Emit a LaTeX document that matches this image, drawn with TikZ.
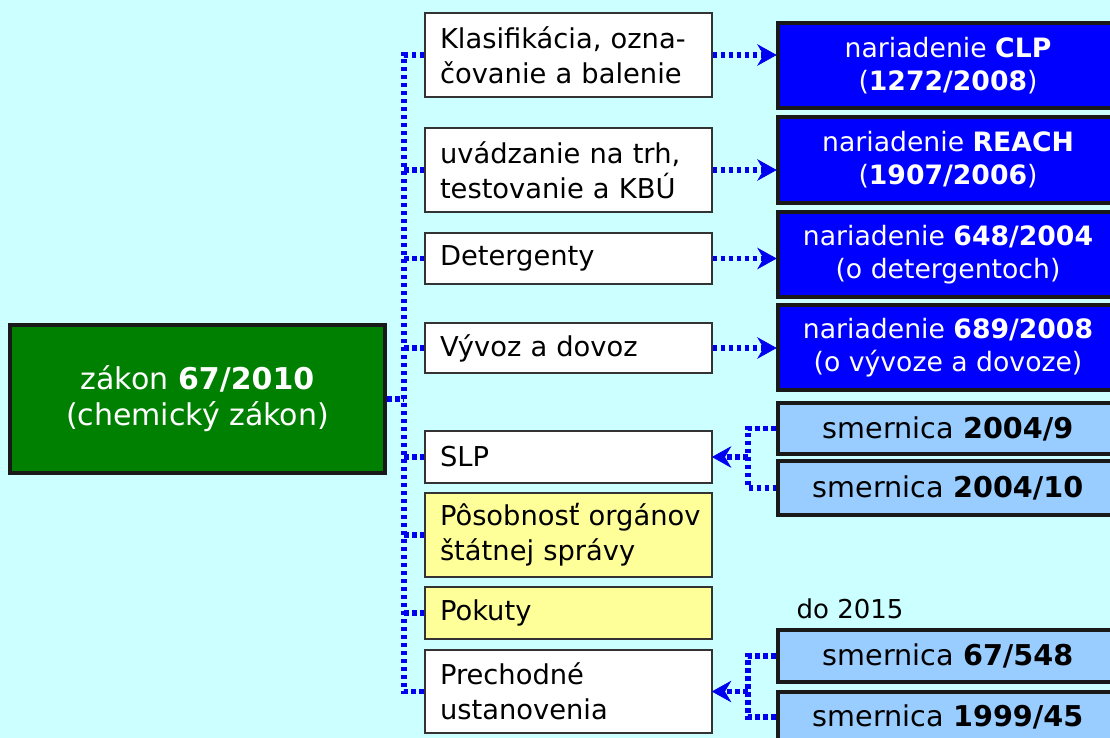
\documentclass[tikz,border=0pt]{standalone}
\usepackage{fontspec}
\setmainfont{DejaVu Sans}
\usetikzlibrary{calc}
\newdimen\pxu \pxu=0.75pt
\definecolor{bgcyan}{HTML}{CCFFFF}
\definecolor{lawgreen}{HTML}{008000}
\definecolor{regblue}{HTML}{0000FF}
\definecolor{dirblue}{HTML}{99CCFF}
\definecolor{paleyellow}{HTML}{FFFF99}
\definecolor{linkblue}{HTML}{0000F0}
\newcommand{\basefont}{\fontsize{20.5}{26}\selectfont}
\newcommand{\dirfont}{\fontsize{21.5}{26}\selectfont}
\tikzset{
  topic/.style={draw=black!80, line width=0.8pt, fill=white,
    text width=257*\pxu, inner xsep=15*\pxu, inner ysep=0pt,
    align=left, font=\basefont},
  yellowtopic/.style={topic, fill=paleyellow},
  lawbox/.style={draw=black!90, line width=3pt, fill=lawgreen, text=white,
    align=center, inner sep=0pt, font=\fontsize{22.5}{27}\selectfont},
  regbox/.style={draw=black!90, line width=3pt, fill=regblue, text=white,
    minimum width=340*\pxu, align=center, inner sep=0pt,
    font=\fontsize{20}{24.75}\selectfont},
  dirbox/.style={draw=black!90, line width=3pt, fill=dirblue, text=black,
    minimum width=340*\pxu, align=center, inner sep=0pt, font=\dirfont},
  link/.style={draw=linkblue, line width=4pt, line cap=butt,
    dash pattern=on 3.4pt off 2.6pt},
  linkarrow/.style={link, shorten >=9pt},
  headfill/.style={fill=linkblue, draw=linkblue, line width=0.5pt,
    line join=miter},
}
% dotted connector ending in a swept-back head; #3 = +1 points right, -1 left
\newcommand{\linkhead}[3]{%
  \draw[linkarrow] (#1) -- (#2);
  \path[headfill] (#2) -- ++(-18*#3,-10) -- ++(6*#3,10) -- ++(-6*#3,10)
    -- cycle;}
\begin{document}
\begin{tikzpicture}[x=0.75pt, y=-0.75pt]
  \fill[bgcyan] (0,0) rectangle (1110,738);
  \useasboundingbox (0,0) rectangle (1110,738);
  \clip (0,0) rectangle (1110,738);

  % the law itself
  \node[lawbox, minimum width=375*\pxu, minimum height=148*\pxu] (law)
    at (197.5,399) {zákon \textbf{67/2010}\\(chemický zákon)};

  % topics covered by the law
  \node[topic, minimum height=84*\pxu] (klas) at (568.5,55)
    {\mbox{Klasifikácia, ozna-}\\čovanie a balenie};
  \node[topic, minimum height=84*\pxu] (trh) at (568.5,170)
    {uvádzanie na trh,\\testovanie a KBÚ};
  \node[topic, minimum height=51*\pxu] (det) at (568.5,258.5) {Detergenty};
  \node[topic, minimum height=50*\pxu] (vyv) at (568.5,348) {Vývoz a dovoz};
  \node[topic, minimum height=52*\pxu] (slp) at (568.5,457) {SLP};
  \node[yellowtopic, minimum height=84*\pxu] (pos) at (568.5,535)
    {\mbox{Pôsobnosť orgánov}\\štátnej správy};
  \node[yellowtopic, minimum height=52*\pxu] (pok) at (568.5,613) {Pokuty};
  \node[topic, minimum height=83*\pxu] (pre) at (568.5,691.5)
    {Prechodné\\ustanovenia};

  % EU regulations
  \node[regbox, minimum height=85*\pxu] (clp) at (948,65.5)
    {nariadenie \textbf{CLP}\\(\textbf{1272/2008})};
  \node[regbox, minimum height=86*\pxu] (reach) at (948,160)
    {nariadenie \textbf{REACH}\\(\textbf{1907/2006})};
  \node[regbox, minimum height=85*\pxu] (r648) at (948,254.5)
    {nariadenie \textbf{648/2004}\\(o detergentoch)};
  \node[regbox, minimum height=85*\pxu] (r689) at (948,347.5)
    {nariadenie \textbf{689/2008}\\(o vývoze a dovoze)};

  % EU directives
  \node[dirbox, minimum height=51*\pxu] (d9) at (948,428.5)
    {smernica \textbf{2004/9}};
  \node[dirbox, minimum height=54*\pxu] (d10) at (948,488)
    {smernica \textbf{2004/10}};
  \node[dirbox, minimum height=52*\pxu] (d67) at (948,656)
    {smernica \textbf{67/548}};
  \node[dirbox, minimum height=50*\pxu] (d99) at (948,717)
    {smernica \textbf{1999/45}};
  \node[font=\fontsize{19.5}{24}\selectfont, inner sep=0pt] (until)
    at (850,609) {do 2015};

  % trunk from the law to its topics
  \coordinate (trunk) at (404,0);
  \draw[link] (klas.west) -- (klas.west -| trunk) -- (pre.west -| trunk)
    -- (pre.west);
  \draw[link] (law.east) -- (law.east -| trunk);
  \foreach \t in {trh,det,vyv,slp,pos,pok}
    \draw[link] (\t.west -| trunk) -- (\t.west);

  % regulations implemented by topics
  \linkhead{klas.east}{klas.east -| clp.west}{1}
  \linkhead{trh.east}{trh.east -| reach.west}{1}
  \linkhead{det.east}{det.east -| r648.west}{1}
  \linkhead{vyv.east}{vyv.east -| r689.west}{1}

  % directives feeding topics
  \coordinate (elbow) at (748,0);
  \draw[link] (d9.west) -- (d9.west -| elbow) -- (d10.west -| elbow)
    -- (d10.west);
  \linkhead{slp.east -| elbow}{slp.east}{-1}
  \draw[link] (d67.west) -- (d67.west -| elbow) -- (d99.west -| elbow)
    -- (d99.west);
  \linkhead{pre.east -| elbow}{pre.east}{-1}
\end{tikzpicture}
\end{document}
